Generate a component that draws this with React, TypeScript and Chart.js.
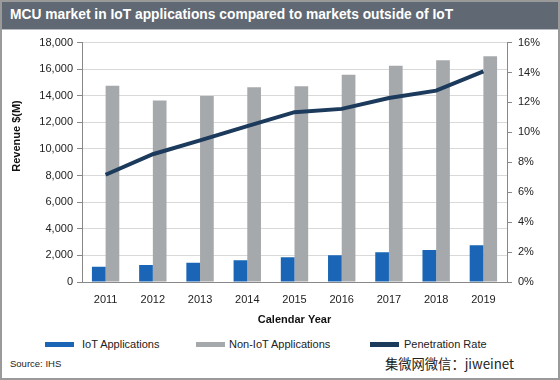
import React, { useEffect, useRef } from "react";
import { Chart, registerables } from "chart.js";

Chart.register(...registerables);

const years = ["2011", "2012", "2013", "2014", "2015", "2016", "2017", "2018", "2019"];
const iotRevenue = [1140, 1270, 1440, 1640, 1870, 2020, 2240, 2410, 2760];
const nonIotRevenue = [14760, 13640, 13990, 14640, 14710, 15590, 16260, 16680, 16980];
const penetrationRate = [7.17, 8.54, 9.47, 10.42, 11.35, 11.57, 12.3, 12.79, 14.07];

const seriesLabels = ["IoT Applications", "Non-IoT Applications", "Penetration Rate"];
const seriesColors = ["#1a65b5", "#a6a9ac", "#1b3a5c"];

const FONT = "'Liberation Sans', Arial, sans-serif";

export default function App() {
  const canvasRef = useRef<HTMLCanvasElement | null>(null);

  useEffect(() => {
    const canvas = canvasRef.current;
    if (!canvas) return;
    const chart = new Chart(canvas, {
      type: "bar",
      data: {
        labels: years,
        datasets: [
          {
            type: "bar",
            label: seriesLabels[0],
            data: iotRevenue,
            backgroundColor: seriesColors[0],
            yAxisID: "y",
            categoryPercentage: 0.58,
            barPercentage: 1,
            order: 1,
          },
          {
            type: "bar",
            label: seriesLabels[1],
            data: nonIotRevenue,
            backgroundColor: seriesColors[1],
            yAxisID: "y",
            categoryPercentage: 0.58,
            barPercentage: 1,
            order: 1,
          },
          {
            type: "line",
            label: seriesLabels[2],
            data: penetrationRate,
            borderColor: seriesColors[2],
            backgroundColor: seriesColors[2],
            borderWidth: 4,
            pointRadius: 0,
            tension: 0,
            yAxisID: "y1",
            order: 0,
          } as any,
        ],
      },
      options: {
        animation: false,
        responsive: false,
        devicePixelRatio: 1,
        layout: { padding: { top: 11, left: 0, right: 0, bottom: 0 } },
        plugins: {
          legend: { display: false },
          tooltip: { enabled: false },
        },
        scales: {
          x: {
            grid: { display: false },
            border: { color: "#888888" },
            ticks: { color: "#222", font: { family: FONT, size: 11 }, padding: 3 },
            title: {
              display: true,
              text: "Calendar Year",
              color: "#111",
              font: { family: FONT, size: 11, weight: "bold" },
              padding: { top: 4, bottom: 3 },
            },
            afterFit: (s: any) => {
              s.height = 48;
            },
          },
          y: {
            position: "left",
            min: 0,
            max: 18000,
            ticks: {
              stepSize: 2000,
              color: "#222",
              font: { family: FONT, size: 11 },
              padding: 4,
              callback: (v: any) => Number(v).toLocaleString("en-US"),
            },
            grid: { color: "#d9d9d9", tickColor: "#888888", tickLength: 5 },
            border: { color: "#888888" },
            afterFit: (s: any) => {
              s.width = 82;
            },
          },
          y1: {
            position: "right",
            min: 0,
            max: 16,
            ticks: {
              stepSize: 2,
              color: "#222",
              font: { family: FONT, size: 11 },
              padding: 6,
              callback: (v: any) => v + "%",
            },
            grid: { drawOnChartArea: false, tickColor: "#888888", tickLength: 5 },
            border: { color: "#888888" },
            afterFit: (s: any) => {
              s.width = 53;
            },
          },
        },
      },
    });
    return () => chart.destroy();
  }, []);

  const legendPos = [
    { sx: 45, tx: 82 },
    { sx: 196, tx: 229 },
    { sx: 370, tx: 404 },
  ];

  return (
    <div
      style={{
        position: "fixed",
        top: 0,
        left: 0,
        width: 560,
        height: 380,
        background: "#fff",
        overflow: "hidden",
        fontFamily: FONT,
      }}
    >
      <div
        style={{
          position: "absolute",
          left: 0,
          top: 0,
          width: 560,
          height: 29,
          background: "#5f6873",
          borderBottom: "1px solid #b8bcc2",
        }}
      />
      <div
        style={{
          position: "absolute",
          left: 10,
          top: 5,
          color: "#fff",
          fontWeight: "bold",
          fontSize: 13.8,
          lineHeight: "20px",
          whiteSpace: "nowrap",
        }}
      >
        MCU market in IoT applications compared to markets outside of IoT
      </div>
      <canvas
        ref={canvasRef}
        width={560}
        height={300}
        style={{ position: "absolute", left: 0, top: 30, width: 560, height: 300 }}
      />
      <div
        style={{
          position: "absolute",
          left: 16,
          top: 136,
          transform: "translate(-50%, -50%) rotate(-90deg)",
          fontSize: 11,
          fontWeight: "bold",
          color: "#111",
          whiteSpace: "nowrap",
        }}
      >
        Revenue $(M)
      </div>
      {seriesLabels.map((lab, i) => (
        <React.Fragment key={lab}>
          <div
            style={{
              position: "absolute",
              left: legendPos[i].sx,
              top: 342,
              width: 29,
              height: 5,
              background: seriesColors[i],
            }}
          />
          <div
            style={{
              position: "absolute",
              left: legendPos[i].tx,
              top: 336,
              fontSize: 11,
              lineHeight: "16px",
              color: "#222",
              whiteSpace: "nowrap",
            }}
          >
            {lab}
          </div>
        </React.Fragment>
      ))}
      <div
        style={{
          position: "absolute",
          left: 10,
          top: 357,
          fontSize: 9.5,
          lineHeight: "14px",
          color: "#222",
        }}
      >
        Source: IHS
      </div>
      <div
        style={{
          position: "absolute",
          right: 46,
          top: 354,
          fontSize: 13.3,
          lineHeight: "20px",
          color: "#222",
          fontFamily: "'Noto Sans CJK SC', sans-serif",
          whiteSpace: "nowrap",
        }}
      >
        集微网微信：jiweinet
      </div>
      <div
        style={{
          position: "absolute",
          left: 0,
          top: 0,
          width: 560,
          height: 380,
          boxSizing: "border-box",
          border: "2px solid #9a9a9a",
          pointerEvents: "none",
        }}
      />
    </div>
  );
}
